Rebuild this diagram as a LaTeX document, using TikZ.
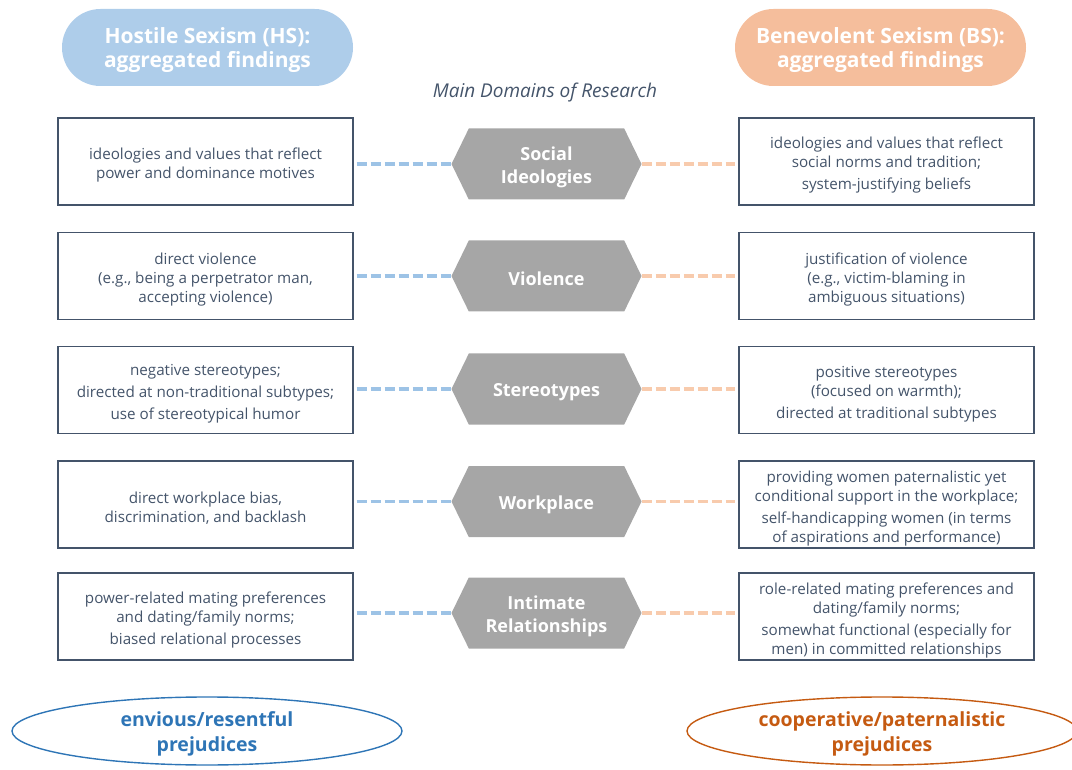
\documentclass[tikz,border=0pt]{standalone}
\usepackage{fontspec}
\setmainfont{Open Sans}
\usetikzlibrary{shapes.symbols,shapes.geometric,shapes.misc}
\definecolor{hsblue}{HTML}{AECDEA}
\definecolor{bsorange}{HTML}{F5BE9C}
\definecolor{boxline}{HTML}{44546A}
\definecolor{boxtext}{HTML}{44546A}
\definecolor{hexfill}{HTML}{A6A6A6}
\definecolor{dashblue}{HTML}{9DC3E6}
\definecolor{dashorange}{HTML}{F8CBAD}
\definecolor{ellblue}{HTML}{2E75B6}
\definecolor{ellorange}{HTML}{C55A11}
\tikzset{
  header/.style={rounded rectangle, fill=#1, minimum width=291pt, minimum height=77pt, inner sep=0pt},
  headtxt/.style={text=white, font=\fontsize{21}{24.5}\selectfont\bfseries, align=center, inner sep=0pt},
  findbox/.style={draw=boxline, line width=1.2pt, minimum width=295pt, minimum height=87pt, inner sep=0pt},
  findtxt/.style={text=boxtext, font=\fontsize{15.2}{19}\selectfont, align=center, inner sep=0pt},
  hexdomain/.style={signal, signal to=east and west, signal pointer angle=128, fill=hexfill, minimum width=190pt, minimum height=71pt, inner sep=0pt},
  hextxt/.style={text=white, font=\fontsize{18}{23}\selectfont\bfseries, align=center, inner sep=0pt},
  blink/.style={draw=dashblue, line width=3.5pt, dash pattern=on 10pt off 4pt},
  olink/.style={draw=dashorange, line width=3.5pt, dash pattern=on 10pt off 4pt},
  prej/.style={ellipse, draw=#1, line width=1.4pt, minimum width=390pt, minimum height=68pt, inner sep=0pt},
  prejtxt/.style={text=#1, font=\fontsize{19.5}{25}\selectfont\bfseries, align=center, inner sep=0pt}
}
\begin{document}
\begin{tikzpicture}[x=1pt,y=-1pt]
\useasboundingbox (0,0) rectangle (1072,770);
\node[header=hsblue] (hs) at (207.5,47.5) {};
\node[headtxt] (hst) at ([yshift=-2.5pt]hs.center) {Hostile Sexism (HS):\\aggregated findings};
\node[header=bsorange] (bs) at (880.5,47.5) {};
\node[headtxt] (bst) at ([yshift=-2.5pt]bs.center) {Benevolent Sexism (BS):\\aggregated findings};
\node[text=boxtext, font=\fontsize{19}{22}\selectfont\itshape] (title) at (545,93) {Main Domains of Research};

% shapes
\foreach \i/\y/\hy in {1/161.5/164, 2/276/276, 3/390/389, 4/504.5/501.5, 5/616.5/613}{
  \node[findbox] (l\i) at (205.5,\y) {};
  \node[hexdomain] (d\i) at (546.5,\hy) {};
  \node[findbox] (r\i) at (886.5,\y) {};
}
% texts
\node[findtxt] (l1t) at ([yshift=-4pt]l1.center) {ideologies and values that reflect\\power and dominance motives};
\node[hextxt] (d1t) at ([yshift=-3pt]d1.center) {Social\\Ideologies};
\node[findtxt] (r1t) at ([yshift=-4pt]r1.center) {ideologies and values that reflect\\social norms and tradition;\\[3pt]system-justifying beliefs};

\node[findtxt] (l2t) at ([yshift=-4pt]l2.center) {direct violence\\(e.g., being a perpetrator man,\\accepting violence)};
\node[hextxt] (d2t) at ([yshift=-3pt]d2.center) {Violence};
\node[findtxt] (r2t) at ([yshift=-4pt]r2.center) {justification of violence\\(e.g., victim-blaming in\\ambiguous situations)};

\node[findtxt] (l3t) at ([yshift=-4pt]l3.center) {negative stereotypes;\\[3pt]directed at non-traditional subtypes;\\[3pt]use of stereotypical humor};
\node[hextxt] (d3t) at ([yshift=-3pt]d3.center) {Stereotypes};
\node[findtxt] (r3t) at ([yshift=-4pt]r3.center) {positive stereotypes\\(focused on warmth);\\[3pt]directed at traditional subtypes};

\node[findtxt] (l4t) at ([yshift=-4pt]l4.center) {direct workplace bias,\\discrimination, and backlash};
\node[hextxt] (d4t) at ([yshift=-3pt]d4.center) {Workplace};
\node[findtxt] (r4t) at ([yshift=-4pt]r4.center) {providing women paternalistic yet\\conditional support in the workplace;\\[3pt]self-handicapping women (in terms\\of aspirations and performance)};

\node[findtxt] (l5t) at ([yshift=-4pt]l5.center) {power-related mating preferences\\and dating/family norms;\\[3pt]biased relational processes};
\node[hextxt] (d5t) at ([yshift=-3pt]d5.center) {Intimate\\Relationships};
\node[findtxt] (r5t) at ([yshift=-4pt]r5.center) {role-related mating preferences and\\dating/family norms;\\[3pt]somewhat functional (especially for\\men) in committed relationships};

\foreach \i in {1,...,5}{
  \draw[blink] ([xshift=3pt]l\i.east |- d\i.west) -- (d\i.west);
  \draw[olink] (d\i.east) -- ([xshift=-3pt]r\i.west |- d\i.east);
}

\node[prej=ellblue] (ep) at (207,731) {};
\node[prejtxt=ellblue] (ept) at ([yshift=-3pt]ep.center) {envious/resentful\\prejudices};
\node[prej=ellorange] (cp) at (882,731) {};
\node[prejtxt=ellorange] (cpt) at ([yshift=-3pt]cp.center) {cooperative/paternalistic\\prejudices};
\end{tikzpicture}
\end{document}
